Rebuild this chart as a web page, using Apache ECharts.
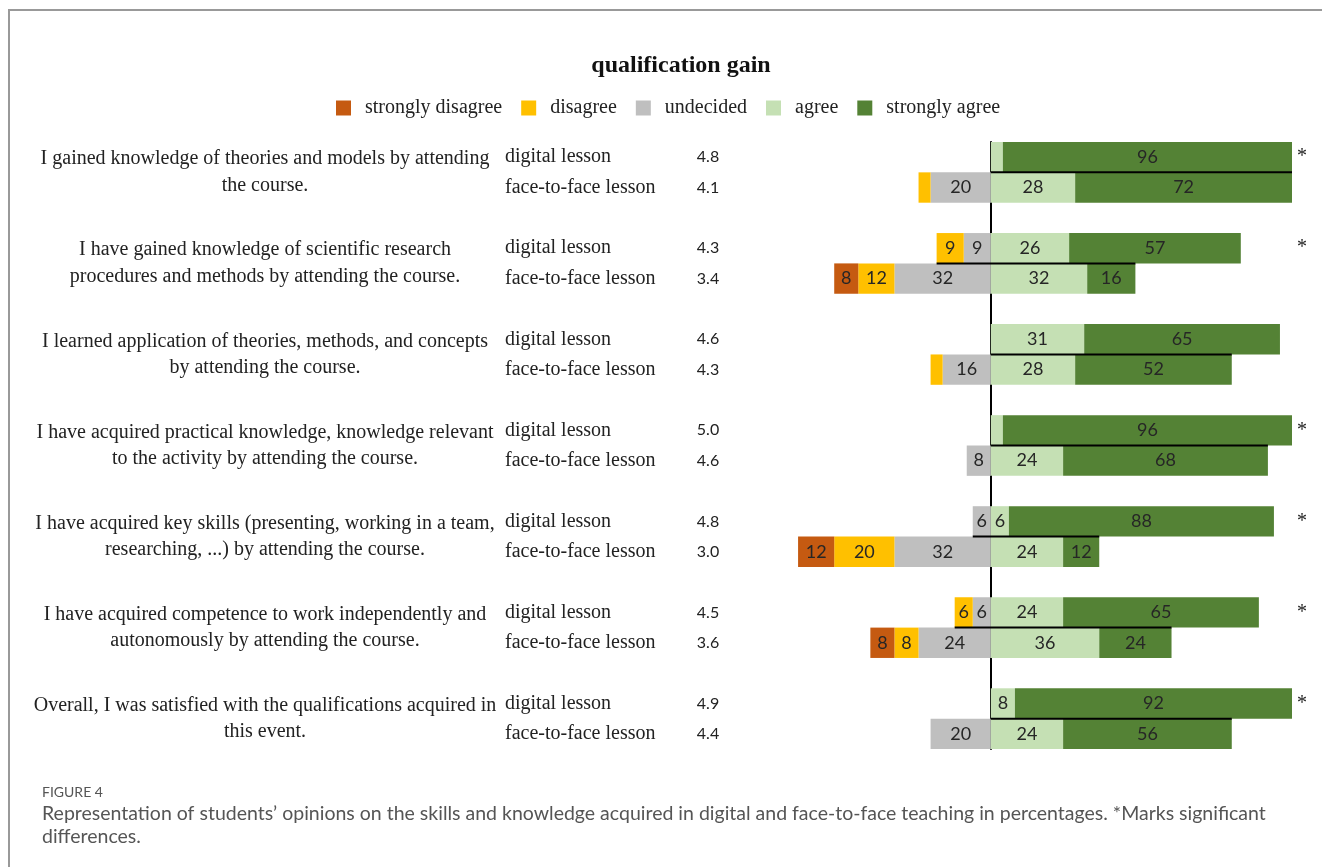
<!DOCTYPE html>
<html>
<head>
<meta charset="utf-8">
<title>qualification gain</title>
<script src="https://cdn.jsdelivr.net/npm/echarts@6/dist/echarts.min.js"></script>
<style>
  html, body { margin: 0; padding: 0; background: #fff; }
  #chart { width: 1322px; height: 867px; }
</style>
</head>
<body>
<div id="chart"></div>
<script>
// questions, two lines each (first line beside digital bar, second beside face-to-face bar)
const questions = [
  ['I gained knowledge of theories and models by attending', 'the course.'],
  ['I have gained knowledge of scientific research', 'procedures and methods by attending the course.'],
  ['I learned application of theories, methods, and concepts', 'by attending the course.'],
  ['I have acquired practical knowledge, knowledge relevant', 'to the activity by attending the course.'],
  ['I have acquired key skills (presenting, working in a team,', 'researching, ...) by attending the course.'],
  ['I have acquired competence to work independently and', 'autonomously by attending the course.'],
  ['Overall, I was satisfied with the qualifications acquired in', 'this event.']
];
const lessons = ['digital lesson', 'face-to-face lesson'];
const meanDigital = ['4.8', '4.3', '4.6', '5.0', '4.8', '4.5', '4.9'];
const meanF2F = ['4.1', '3.4', '4.3', '4.6', '3.0', '3.6', '4.4'];
const significant = [true, true, false, true, true, true, true];

const answerNames = ['strongly disagree', 'disagree', 'undecided', 'agree', 'strongly agree'];
const answerColors = ['#C55A11', '#FFC000', '#BFBFBF', '#C5E0B4', '#548235'];

// percentages, digital lesson
const stronglyDisagreeDigital = [0, 0, 0, 0, 0, 0, 0];
const disagreeDigital = [0, 9, 0, 0, 0, 6, 0];
const undecidedDigital = [0, 9, 0, 0, 6, 6, 0];
const agreeDigital = [4, 26, 31, 4, 6, 24, 8];
const stronglyAgreeDigital = [96, 57, 65, 96, 88, 65, 92];

// percentages, face-to-face lesson
const stronglyDisagreeF2F = [0, 8, 0, 0, 12, 8, 0];
const disagreeF2F = [4, 12, 4, 0, 20, 8, 0];
const undecidedF2F = [20, 32, 16, 8, 32, 24, 20];
const agreeF2F = [28, 32, 28, 24, 24, 36, 24];
const stronglyAgreeF2F = [72, 16, 52, 68, 12, 24, 56];

const caption = [
  'Representation of students\u2019 opinions on the skills and knowledge acquired in digital and face-to-face teaching in percentages. *Marks significant',
  'differences.'
];

// each question takes 3 slots: digital, face-to-face, gap (last gap dropped)
const slotCount = questions.length * 3 - 1;

function slots(digital, f2f, fill) {
  const out = [];
  for (let i = 0; i < slotCount; i++) {
    const g = Math.floor(i / 3), k = i % 3;
    if (k === 0) out.push(fill(digital, g));
    else if (k === 1) out.push(fill(f2f, g));
    else out.push(fill(null, g));
  }
  return out;
}
const neg = (arr, g) => (arr && arr[g] ? -arr[g] : null);
const pos = (arr, g) => (arr && arr[g] ? arr[g] : null);
const txt = (arr, g) => (arr ? arr[g] : '');

const slotNames = slots(0, 1, (a, g) => 's' + g + '_' + a);
const lessonLabels = slots(0, 1, (a) => (a === null ? '' : lessons[a]));
const meanLabels = slots(meanDigital, meanF2F, txt);
// question lines sit a little closer together than the bars
const questionLabels = slots(0, 1, (a, g) => (a === null ? '' : '{' + (a === 0 ? 'a' : 'b') + '|' + questions[g][a] + '}'));
const starLabels = slots(significant, null, (a, g) => (a && a[g] ? '*' : ''));

const chart = echarts.init(document.getElementById('chart'));

const labelStyle = {
  show: true,
  position: 'inside',
  color: '#262626',
  fontFamily: 'Lato',
  fontSize: 18,
  formatter: function (p) {
    const v = Math.abs(p.value);
    return v >= 5 ? String(v) : '';
  }
};

function barSeries(idx, data) {
  return {
    name: answerNames[idx],
    type: 'bar',
    stack: 'total',
    barCategoryGap: '0%',
    itemStyle: { color: answerColors[idx] },
    label: labelStyle,
    data: data
  };
}

// separator line: from digital bar's left end to face-to-face bar's right end
const separators = questions.map(function (q, g) {
  const left = -(stronglyDisagreeDigital[g] + disagreeDigital[g] + undecidedDigital[g]);
  const right = agreeF2F[g] + stronglyAgreeF2F[g];
  return [Math.min(0, left), right, g * 3];
});

const sideAxis = function (labels, extra) {
  return Object.assign({
    type: 'category',
    data: slotNames,
    inverse: true,
    position: 'left',
    axisLine: { show: false },
    axisTick: { show: false },
    splitLine: { show: false }
  }, extra);
};

const serif = 'Liberation Serif';

const option = {
  animation: false,
  backgroundColor: '#fff',
  title: {
    text: 'qualification gain',
    left: 676,
    top: 49,
    textAlign: 'center',
    textStyle: { fontFamily: serif, fontWeight: 'bold', fontSize: 24, color: '#111' }
  },
  legend: {
    top: 93,
    left: 331,
    icon: 'rect',
    itemWidth: 15,
    itemHeight: 15,
    itemGap: 19,
    data: answerNames,
    textStyle: { fontFamily: serif, fontSize: 20, color: '#222', padding: [0, 0, 0, 9] }
  },
  grid: { left: 780, right: 30, top: 142, height: 607 },
  xAxis: { type: 'value', min: -70, max: 100, show: false },
  yAxis: [
    {
      type: 'category',
      data: slotNames,
      inverse: true,
      axisLine: { show: true, onZero: true, lineStyle: { color: '#000', width: 2 } },
      axisTick: { show: false },
      axisLabel: { show: false },
      splitLine: { show: false }
    },
    sideAxis(lessonLabels, {
      axisLabel: {
        interval: 0, align: 'left', margin: 275,
        fontFamily: serif, fontSize: 20, color: '#222',
        formatter: function (v, i) { return lessonLabels[i]; }
      }
    }),
    sideAxis(meanLabels, {
      axisLabel: {
        interval: 0, align: 'center', margin: 72,
        fontFamily: 'Lato', fontSize: 16, color: '#222',
        formatter: function (v, i) { return meanLabels[i]; }
      }
    }),
    sideAxis(questionLabels, {
      axisLabel: {
        interval: 0, align: 'center', margin: 515,
        fontFamily: serif, fontSize: 20, color: '#222',
        formatter: function (v, i) { return questionLabels[i]; },
        rich: {
          a: { fontFamily: serif, fontSize: 20, color: '#222', padding: [4, 0, 0, 0] },
          b: { fontFamily: serif, fontSize: 20, color: '#222', padding: [0, 0, 4, 0] }
        }
      }
    }),
    sideAxis(starLabels, {
      position: 'right',
      axisLabel: {
        interval: 0, align: 'left', margin: 5,
        fontFamily: serif, fontSize: 20, color: '#222',
        formatter: function (v, i) { return starLabels[i]; }
      }
    })
  ],
  series: [
    barSeries(2, slots(undecidedDigital, undecidedF2F, neg)),
    barSeries(1, slots(disagreeDigital, disagreeF2F, neg)),
    barSeries(0, slots(stronglyDisagreeDigital, stronglyDisagreeF2F, neg)),
    barSeries(3, slots(agreeDigital, agreeF2F, pos)),
    barSeries(4, slots(stronglyAgreeDigital, stronglyAgreeF2F, pos)),
    {
      type: 'custom',
      z: 5,
      silent: true,
      encode: { x: [0, 1], y: 2 },
      data: separators,
      renderItem: function (params, api) {
        const a = api.coord([api.value(0), api.value(2)]);
        const b = api.coord([api.value(1), api.value(2)]);
        const half = api.size([0, 1])[1] / 2;
        return {
          type: 'line',
          shape: { x1: a[0], y1: a[1] + half, x2: b[0], y2: b[1] + half },
          style: { stroke: '#000', lineWidth: 2 }
        };
      }
    }
  ],
  graphic: [
    {
      type: 'polyline',
      shape: { points: [[9, 867], [9, 10], [1322, 10]] },
      style: { stroke: '#999', lineWidth: 2, fill: null }
    },
    {
      type: 'text', left: 42, top: 785,
      style: { text: 'FIGURE 4', fontFamily: 'Lato', fontSize: 14, fill: '#555' }
    },
    {
      type: 'text', left: 42, top: 804,
      style: { text: caption[0], fontFamily: 'Lato', fontSize: 19.5, fill: '#555' }
    },
    {
      type: 'text', left: 42, top: 827,
      style: { text: caption[1], fontFamily: 'Lato', fontSize: 19.5, fill: '#555' }
    }
  ]
};

chart.setOption(option);
</script>
</body>
</html>
